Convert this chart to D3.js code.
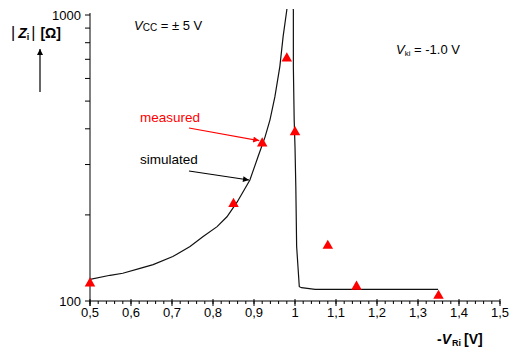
<!DOCTYPE html>
<html>
<head>
<meta charset="utf-8">
<script src="https://cdn.jsdelivr.net/npm/d3@7"></script>
<style>
  html, body { margin: 0; padding: 0; background: #fff; }
  svg { display: block; font-family: "Liberation Sans", Arial, sans-serif; }
</style>
</head>
<body>
<svg id="chart" width="518" height="352"></svg>
<script>
// Input impedance |Zi| versus -V_Ri (V_ki = -1.0 V, Vcc = ±5 V)

// measured points
const measuredV = [0.50, 0.85, 0.92, 0.98, 1.00, 1.08, 1.15, 1.35];
const measuredZ = [116, 220, 358, 710, 392, 157, 113, 105];

// simulated curve: rising branch, then collapse after the peak
const simV = [0.500, 0.549, 0.580, 0.622, 0.654, 0.702, 0.744, 0.776, 0.810, 0.834,
              0.859, 0.890, 0.910, 0.927, 0.939, 0.951, 0.963, 0.971, 0.980, 0.984,
              0.990, 0.996, 0.996, 0.998, 1.000, 1.002, 1.004, 1.0105, 1.016, 1.049, 1.349];
const simZ = [119, 123, 125, 130, 134, 143, 155, 168, 182, 197,
              222, 265, 320, 375, 430, 518, 660, 840, 1041, 1200,
              1200, 1041, 660, 430, 346, 251, 155, 112.2, 111.3, 109.9, 109.9];

const xTicksMajor = [0.5, 0.6, 0.7, 0.8, 0.9, 1.0, 1.1, 1.2, 1.3, 1.4, 1.5];
const yTicks = [100, 200, 300, 400, 500, 600, 700, 800, 900, 1000];
const yLabels = [100, 1000];

const svg = d3.select("#chart");
const plotLeft = 90, plotRight = 500, plotTop = 15, plotBottom = 301;

const x = d3.scaleLinear().domain([0.5, 1.5]).range([plotLeft, plotRight]);
const y = d3.scaleLog().domain([100, 1000]).range([plotBottom, plotTop]);

const defs = svg.append("defs");
// clip region for the curve
defs.append("clipPath").attr("id", "plotClip")
  .append("rect").attr("x", plotLeft).attr("y", 9)
  .attr("width", plotRight - plotLeft).attr("height", plotBottom - 9);

// arrow markers
[["arrRed", "#ff0000"], ["arrBlack", "#000"]].forEach(([id, c]) => {
  defs.append("marker").attr("id", id).attr("viewBox", "0 0 10 10")
    .attr("refX", 10).attr("refY", 5).attr("markerWidth", 7).attr("markerHeight", 6)
    .attr("markerUnits", "userSpaceOnUse").attr("orient", "auto")
    .append("path").attr("d", "M0,0 L10,5 L0,10 Z").attr("fill", c);
});

// x axis: minor ticks every 0.02, major every 0.1
const minorTicks = d3.range(0, 51).map(i => 0.5 + i * 0.02);
const gx = svg.append("g").attr("transform", `translate(0,${plotBottom})`);
gx.append("line").attr("x1", plotLeft).attr("x2", plotRight).attr("stroke", "#000");
gx.selectAll("line.minor").data(minorTicks).join("line").attr("class", "minor")
  .attr("x1", d => x(d)).attr("x2", d => x(d)).attr("y1", 0).attr("y2", 3)
  .attr("stroke", "#000");
gx.selectAll("line.major").data(xTicksMajor).join("line").attr("class", "major")
  .attr("x1", d => x(d)).attr("x2", d => x(d)).attr("y1", -2).attr("y2", 5)
  .attr("stroke", "#000");
gx.selectAll("text").data(xTicksMajor).join("text")
  .attr("x", d => x(d)).attr("y", 16).attr("text-anchor", "middle")
  .attr("font-size", 13).attr("fill", "#000")
  .text(d => d === 1 ? "1" : d3.format(".1f")(d).replace(".", ","));

// y axis (log)
const gy = svg.append("g");
gy.append("line").attr("x1", plotLeft).attr("x2", plotLeft)
  .attr("y1", plotTop - 2).attr("y2", plotBottom + 5).attr("stroke", "#000");
gy.selectAll("line.t").data(yTicks).join("line").attr("class", "t")
  .attr("x1", plotLeft - 5).attr("x2", plotLeft).attr("y1", d => y(d)).attr("y2", d => y(d))
  .attr("stroke", "#000");
gy.selectAll("text").data(yLabels).join("text")
  .attr("x", plotLeft - 9).attr("y", d => y(d) + 5).attr("text-anchor", "end")
  .attr("font-size", 13).attr("fill", "#000").text(d => d);

// simulated curve
const pts = simV.map((v, i) => [v, simZ[i]]);
svg.append("path").datum(pts)
  .attr("clip-path", "url(#plotClip)")
  .attr("d", d3.line().x(d => x(d[0])).y(d => y(d[1])))
  .attr("fill", "none").attr("stroke", "#111").attr("stroke-width", 1.2);

// measured markers (triangles)
const tri = d3.symbol().type(d3.symbolTriangle).size(48);
svg.selectAll("path.m").data(measuredV.map((v, i) => [v, measuredZ[i]])).join("path")
  .attr("class", "m")
  .attr("transform", d => `translate(${x(d[0])},${y(d[1]) + 0.8})`)
  .attr("d", tri).attr("fill", "#ff0000");

// annotations
svg.append("text").attr("x", 140).attr("y", 122).attr("font-size", 13.5).attr("fill", "#ff0000").text("measured");
svg.append("line").attr("x1", 189).attr("y1", 128).attr("x2", x(0.92) - 3).attr("y2", y(358) - 2)
  .attr("stroke", "#ff0000").attr("stroke-width", 1.2).attr("marker-end", "url(#arrRed)");

svg.append("text").attr("x", 140).attr("y", 164).attr("font-size", 13.5).attr("fill", "#000").text("simulated");
svg.append("line").attr("x1", 189).attr("y1", 171).attr("x2", 249).attr("y2", 180)
  .attr("stroke", "#000").attr("stroke-width", 1.2).attr("marker-end", "url(#arrBlack)");

// condition labels
const t1 = svg.append("text").attr("x", 134).attr("y", 30).attr("font-size", 13).attr("fill", "#000");
t1.append("tspan").attr("font-style", "italic").text("V");
t1.append("tspan").attr("font-size", 10).attr("dy", 1).text("CC");
t1.append("tspan").attr("dy", -1).text(" = ± 5 V");

const t2 = svg.append("text").attr("x", 396).attr("y", 54).attr("font-size", 13).attr("fill", "#000");
t2.append("tspan").attr("font-style", "italic").text("V");
t2.append("tspan").attr("font-size", 8).attr("dy", 2).text("ki");
t2.append("tspan").attr("dy", -2).text(" = -1.0 V");

// y axis title with arrow
const yt = svg.append("text").attr("x", 11).attr("y", 38).attr("font-size", 14).attr("font-weight", "bold").attr("fill", "#000");
yt.append("tspan").attr("font-weight", "normal").attr("font-size", 16).text("|");
yt.append("tspan").attr("dx", 3).attr("font-style", "italic").text("Z");
yt.append("tspan").attr("font-size", 9).attr("dy", 2).text("i");
yt.append("tspan").attr("dy", -2).attr("dx", 2).attr("font-weight", "normal").attr("font-size", 16).text("|");
yt.append("tspan").attr("dx", 5).text("[Ω]");
svg.append("line").attr("x1", 40).attr("x2", 40).attr("y1", 92).attr("y2", 49)
  .attr("stroke", "#000").attr("stroke-width", 1.2).attr("marker-end", "url(#arrBlack)");

// x axis title
const xt = svg.append("text").attr("x", 437).attr("y", 344).attr("font-size", 14).attr("font-weight", "bold").attr("fill", "#000");
xt.append("tspan").text("-");
xt.append("tspan").attr("font-style", "italic").text("V");
xt.append("tspan").attr("font-size", 9).attr("dy", 2).attr("dx", 1).text("Ri");
xt.append("tspan").attr("dy", -2).attr("dx", 3).text("[V]");
</script>
</body>
</html>
